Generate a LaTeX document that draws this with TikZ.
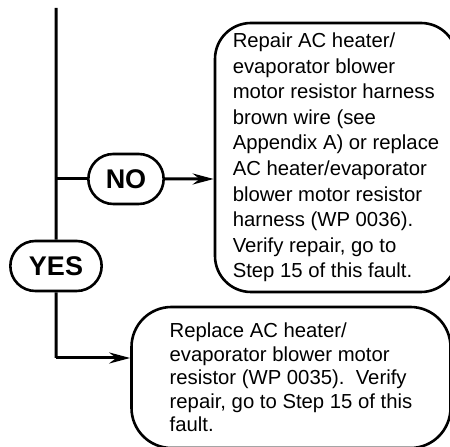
\documentclass[tikz,border=0pt]{standalone}
\usepackage{fontspec}
\setmainfont{Liberation Sans}
\usetikzlibrary{arrows.meta,shapes.misc}

\begin{document}
\begin{tikzpicture}[x=1pt,y=1pt,
    answer/.style = {draw, line width=2.6pt, rounded rectangle, minimum height=50pt,
                     font=\fontsize{27}{30}\selectfont\bfseries},
    action/.style = {draw, line width=2.6pt, rounded corners=36pt, align=left},
    link/.style = {line width=3pt},
    tip/.style = {-{Stealth[length=21pt,width=11pt,inset=7pt]}}
    ]
  \useasboundingbox (0,0) rectangle (450,447);

  % answers
  \node[answer, minimum width=82pt] (no) at (126,268) {NO};
  \node[answer, minimum width=98pt] (yes) at (56,181) {YES};

  % actions
  \node[action, minimum width=242pt, minimum height=269pt,
        font=\fontsize{20.3}{25.6}\selectfont] (repairbox) at (336,289.5)
    {Repair AC heater/\\
     evaporator blower\\
     motor resistor harness\\
     brown wire (see\\
     Appendix A) or replace\\
     AC heater/evaporator\\
     blower motor resistor\\
     harness (WP 0036).\\
     Verify repair, go to\\
     Step 15 of this fault.};
  \node[action, rounded corners=40pt, minimum width=319pt, minimum height=141pt,
        font=\fontsize{20.3}{23.5}\selectfont] (replacebox) at (291,69.5)
    {Replace AC heater/\\
     evaporator blower motor\\
     resistor (WP 0035).\ \ Verify\\
     repair, go to Step 15 of this\\
     fault.};

  % connectors
  \coordinate (top) at (56,439);
  \coordinate (split) at (top |- no.west);
  \coordinate (bend) at (56,89);
  \draw[link] (top) -- (yes);
  \draw[link] (split) -- (no);
  \draw[link, tip] (no) -- (no.east -| repairbox.west);
  \draw[link] (yes) -- (bend);
  \draw[link, tip] (bend) -- (bend -| replacebox.west);
\end{tikzpicture}
\end{document}
